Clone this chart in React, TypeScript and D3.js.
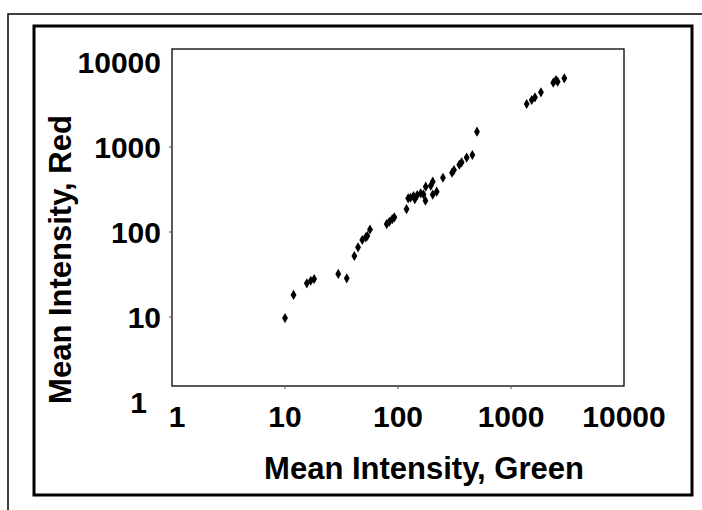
import React, { useEffect, useRef } from 'react';
import * as d3 from 'd3';

// mean green vs mean red intensity per spot
const greenVals = [10.0, 11.9, 15.6, 16.9, 18.1, 29.6, 35.2, 41.1, 44.3, 48.3, 51.8, 53.5, 56.5,
  79.4, 83.8, 89, 92.8, 119, 123, 129, 137, 141, 148, 159, 168, 175, 176, 195, 203, 203, 220,
  250, 301, 313, 349, 366, 405, 455, 500, 1377, 1525, 1630, 1841, 2366, 2500, 2588, 2963];
const redVals = [9.7, 18.2, 24.9, 26.7, 28.0, 32.1, 28.5, 52.2, 66.1, 80.5, 86.5, 89.8, 107,
  124, 132, 142, 149, 186, 249, 253, 265, 243, 272, 285, 277, 233, 341, 351, 391, 275, 298,
  435, 499, 536, 619, 661, 750, 805, 1514, 3206, 3571, 3840, 4395, 5713, 6140, 5866, 6426];

const tickValues = [1, 10, 100, 1000, 10000];
const xTitle = 'Mean Intensity, Green';
const yTitle = 'Mean Intensity, Red';

const W = 702;
const H = 510;
const font = '"Liberation Sans", Arial, sans-serif';

export default function App() {
  const ref = useRef<SVGSVGElement>(null);

  useEffect(() => {
    const svg = d3.select(ref.current);
    svg.selectAll('*').remove();

    // plot frame
    const left = 172, right = 624, top = 49, bottom = 386;

    const x = d3.scaleLog().domain([1, 10000]).range([left, right]);
    // the scanned y labels sit a bit lower than the frame
    const y = d3.scaleLog().domain([1, 10000]).range([402, 62]);

    // outer thin border (page) and thick box
    svg.append('path')
      .attr('d', `M8,${H} L8,14 L${W},14`)
      .attr('fill', 'none')
      .attr('stroke', '#000')
      .attr('stroke-width', 1.5);

    svg.append('rect')
      .attr('x', 34).attr('y', 26)
      .attr('width', 658).attr('height', 469)
      .attr('fill', 'none')
      .attr('stroke', '#000')
      .attr('stroke-width', 3);

    svg.append('rect')
      .attr('x', left).attr('y', top)
      .attr('width', right - left).attr('height', bottom - top)
      .attr('fill', 'none')
      .attr('stroke', '#000')
      .attr('stroke-width', 1.3);

    // small tick marks
    svg.append('g').selectAll('line')
      .data(tickValues.slice(1, -1))
      .join('line')
      .attr('x1', d => x(d)).attr('x2', d => x(d))
      .attr('y1', bottom).attr('y2', bottom + 3)
      .attr('stroke', '#555').attr('stroke-width', 1);

    svg.append('g').selectAll('line')
      .data(tickValues.slice(1, -1))
      .join('line')
      .attr('y1', d => y(d)).attr('y2', d => y(d))
      .attr('x1', left).attr('x2', left - 3)
      .attr('stroke', '#555').attr('stroke-width', 1);

    // tick labels
    svg.append('g').selectAll('text')
      .data(tickValues)
      .join('text')
      .attr('x', d => x(d) + (d === 1 ? 5 : 0))
      .attr('y', 427)
      .attr('text-anchor', 'middle')
      .attr('font-family', font)
      .attr('font-weight', 'bold')
      .attr('font-size', 30)
      .text(d => String(d));

    svg.append('g').selectAll('text')
      .data(tickValues)
      .join('text')
      .attr('x', d => (d === 1 ? 147 : 161))
      .attr('y', d => y(d) + 10.5)
      .attr('text-anchor', 'end')
      .attr('font-family', font)
      .attr('font-weight', 'bold')
      .attr('font-size', 30)
      .text(d => String(d));

    // axis titles
    svg.append('text')
      .attr('x', (left + right) / 2 + 26)
      .attr('y', 479)
      .attr('text-anchor', 'middle')
      .attr('font-family', font)
      .attr('font-weight', 'bold')
      .attr('font-size', 31)
      .text(xTitle);

    svg.append('text')
      .attr('transform', `translate(71,${(top + bottom) / 2 + 42}) rotate(-90)`)
      .attr('text-anchor', 'middle')
      .attr('font-family', font)
      .attr('font-weight', 'bold')
      .attr('font-size', 31)
      .text(yTitle);

    // points
    const pts = greenVals.map((g, i) => ({ g, r: redVals[i] }));
    const diamond = d3.symbol().type(d3.symbolDiamond).size(30);
    svg.append('g').selectAll('path')
      .data(pts)
      .join('path')
      .attr('transform', d => `translate(${x(d.g)},${y(d.r)})`)
      .attr('d', diamond)
      .attr('fill', '#000');
  }, []);

  return (
    <svg ref={ref} width={W} height={H}
      style={{ position: 'absolute', left: 0, top: 0, background: '#fff' }} />
  );
}
